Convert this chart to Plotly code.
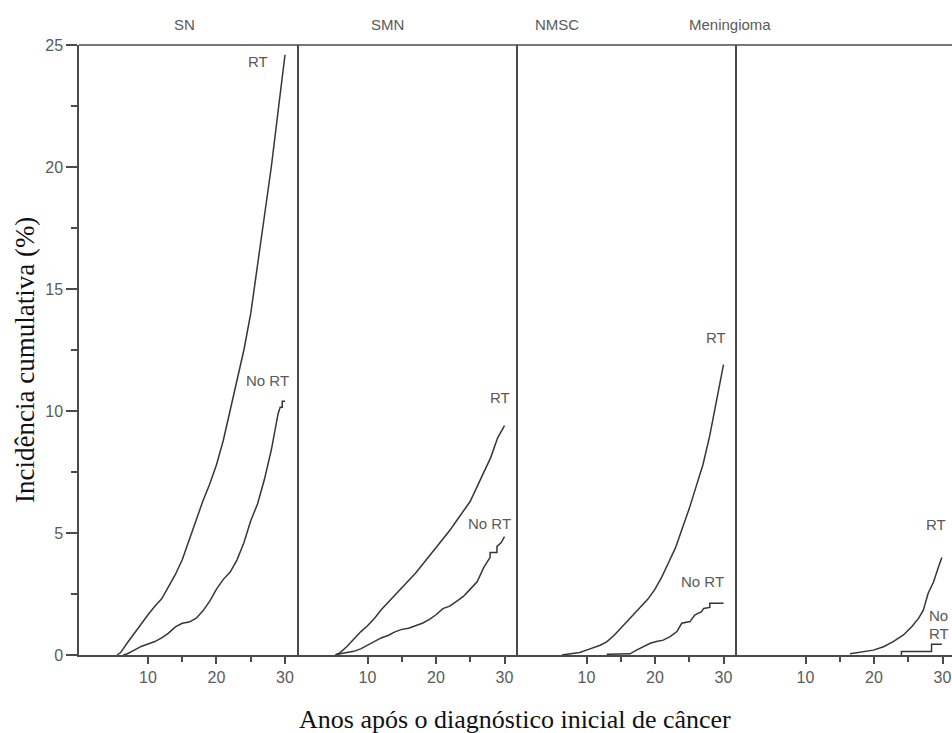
import plotly.graph_objects as go

# ---------------- data ----------------
panels = ["SN", "SMN", "NMSC", "Meningioma"]
x_ticks = [10, 20, 30]
x_minor = [15, 25]
y_ticks = [0, 5, 10, 15, 20, 25]
y_minor = [2.5, 7.5, 12.5, 17.5, 22.5]

sn_rt_x = [5.5, 6, 7, 8, 9, 10, 11, 12, 13, 14, 15, 16, 17, 18, 19, 20, 21, 22, 23, 24, 25, 26, 27, 28, 29, 30]
sn_rt_y = [0, 0.1, 0.5, 0.9, 1.3, 1.65, 2.0, 2.3, 2.8, 3.3, 3.9, 4.7, 5.5, 6.3, 7.0, 7.8, 8.8, 10.0, 11.2, 12.5, 14.0, 16.0, 18.0, 20.0, 22.3, 24.6]
sn_nort_x = [6.4, 7, 8, 9, 10, 11, 12, 13, 14, 15, 16, 17, 18, 19, 20, 21, 22, 23, 24, 25, 26, 27, 28, 29, 29.3, 29.6, 29.6, 30]
sn_nort_y = [0, 0.05, 0.2, 0.35, 0.45, 0.55, 0.7, 0.9, 1.15, 1.3, 1.35, 1.5, 1.8, 2.2, 2.7, 3.1, 3.4, 3.9, 4.6, 5.5, 6.2, 7.2, 8.4, 9.9, 10.15, 10.15, 10.4, 10.4]

smn_rt_x = [5.3, 6, 7, 8, 9, 10, 11, 12, 13, 14, 15, 16, 17, 18, 19, 20, 21, 22, 23, 24, 25, 26, 27, 28, 29, 30]
smn_rt_y = [0, 0.1, 0.35, 0.65, 0.95, 1.2, 1.5, 1.85, 2.15, 2.45, 2.75, 3.05, 3.35, 3.7, 4.05, 4.4, 4.75, 5.1, 5.5, 5.9, 6.3, 6.9, 7.5, 8.1, 8.9, 9.4]
smn_nort_x = [5.5, 6, 7, 8, 9, 10, 11, 12, 13, 14, 15, 16, 17, 18, 19, 20, 21, 22, 23, 24, 25, 26, 27, 27.9, 27.9, 28.9, 28.9, 29.5, 30]
smn_nort_y = [0, 0.05, 0.1, 0.15, 0.25, 0.4, 0.55, 0.7, 0.8, 0.95, 1.05, 1.1, 1.2, 1.3, 1.45, 1.65, 1.9, 2.0, 2.2, 2.4, 2.7, 3.0, 3.6, 4.0, 4.2, 4.2, 4.45, 4.6, 4.85]

nmsc_rt_x = [6.4, 8, 9, 10, 11, 12, 13, 14, 15, 16, 17, 18, 19, 20, 21, 22, 23, 24, 25, 26, 27, 28, 29, 30]
nmsc_rt_y = [0, 0.05, 0.1, 0.2, 0.3, 0.4, 0.55, 0.8, 1.1, 1.4, 1.7, 2.0, 2.3, 2.7, 3.2, 3.8, 4.4, 5.2, 6.0, 6.9, 7.8, 9.0, 10.4, 11.9]
nmsc_nort_x = [12.95, 16.35, 17.3, 18.3, 19.3, 20.2, 21.2, 22.2, 23.2, 23.9, 25.1, 25.8, 26.8, 27.1, 28.0, 28.0, 30.0]
nmsc_nort_y = [0.03, 0.05, 0.2, 0.34, 0.48, 0.55, 0.61, 0.75, 0.96, 1.3, 1.37, 1.64, 1.78, 1.91, 1.95, 2.12, 2.12]

men_rt_x = [16.5, 18.4, 19.9, 21.4, 22.8, 24.3, 25.5, 26.5, 27.2, 27.9, 28.7, 29.4, 29.9]
men_rt_y = [0.05, 0.14, 0.2, 0.34, 0.55, 0.82, 1.16, 1.5, 1.84, 2.52, 3.0, 3.6, 4.0]
men_nort_x = [24.0, 24.0, 28.4, 28.4, 29.9]
men_nort_y = [0.0, 0.14, 0.14, 0.44, 0.44]

series = [
    (sn_rt_x, sn_rt_y, sn_nort_x, sn_nort_y),
    (smn_rt_x, smn_rt_y, smn_nort_x, smn_nort_y),
    (nmsc_rt_x, nmsc_rt_y, nmsc_nort_x, nmsc_nort_y),
    (men_rt_x, men_rt_y, men_nort_x, men_nort_y),
]

# curve labels: (panel index, text, x, y)
curve_labels = [
    (0, "RT", 26.06, 24.34), (0, "No RT", 27.45, 11.23),
    (1, "RT", 29.3, 10.57), (1, "No RT", 27.8, 5.39),
    (2, "RT", 28.9, 13.0), (2, "No RT", 27.0, 3.03),
    (3, "RT", 29.05, 5.33), (3, "No", 29.45, 1.6), (3, "RT", 29.5, 0.9),
]

# ---------------- layout geometry ----------------
W, H = 952, 733
PL, PT, PB = 79, 45, 655            # plot edges in page pixels
ML, MR, MT = PL, 0, PT
MB = H - PB
PW = W - ML - MR
PH = PB - PT
bounds_px = [79, 299, 518, 737, 952]
domains = [[(bounds_px[i] - PL) / PW, min(1.0, (bounds_px[i + 1] - PL) / PW)] for i in range(4)]
px_per_unit = 6.85
x_ranges = [[0, (bounds_px[i + 1] - bounds_px[i]) / px_per_unit] for i in range(4)]
x_ranges[0] = [-0.07, (299 - 79.5) / px_per_unit]

AX = "#4a4a4a"
TXT = "#5a5a5a"
LINE = "#363636"
SANS = "Liberation Sans, Arial, sans-serif"
SERIF = "Liberation Serif, Times New Roman, serif"

fig = go.Figure()
for i, (rx, ry, nx, ny) in enumerate(series):
    xa = "x" if i == 0 else f"x{i+1}"
    ya = "y" if i == 0 else f"y{i+1}"
    for xs, ys in ((rx, ry), (nx, ny)):
        fig.add_trace(go.Scatter(x=xs, y=ys, mode="lines", xaxis=xa, yaxis=ya,
                                 line=dict(color=LINE, width=1.5), showlegend=False,
                                 hoverinfo="skip"))

layout = dict(width=W, height=H, margin=dict(l=ML, r=MR, t=MT, b=MB, pad=0),
              paper_bgcolor="white", plot_bgcolor="white", showlegend=False)

for i in range(4):
    xk = "xaxis" if i == 0 else f"xaxis{i+1}"
    yk = "yaxis" if i == 0 else f"yaxis{i+1}"
    xa = "x" if i == 0 else f"x{i+1}"
    ya = "y" if i == 0 else f"y{i+1}"
    layout[xk] = dict(domain=domains[i], range=x_ranges[i], anchor=ya,
                      showline=True, linecolor=AX, linewidth=2,
                      showgrid=False, zeroline=False,
                      tickmode="array", tickvals=x_ticks, ticks="outside",
                      ticklen=7, tickwidth=1.5, tickcolor=AX,
                      tickfont=dict(family=SANS, size=16, color=TXT),
                      minor=dict(tickmode="array", tickvals=x_minor, ticks="outside",
                                 ticklen=5, tickwidth=1.5, tickcolor=AX))
    ydict = dict(domain=[0, 1], range=[0, 25], anchor=xa,
                 showline=True, linecolor=AX, linewidth=1.5,
                 showgrid=False, zeroline=False)
    if i == 0:
        ydict.update(tickmode="array", tickvals=y_ticks, ticks="outside",
                     ticklen=11, tickwidth=1.5, tickcolor=AX,
                     tickfont=dict(family=SANS, size=16, color=TXT),
                     minor=dict(tickmode="array", tickvals=y_minor, ticks="outside",
                                ticklen=6, tickwidth=1.5, tickcolor=AX))
    else:
        ydict.update(showticklabels=False, ticks="")
    layout[yk] = ydict

def px_x(p):
    return (p - PL) / PW

def px_y(p):
    return (PB - p) / PH

annotations = []
title_px = [184, 387, 557, 730]
for name, xp in zip(panels, title_px):
    annotations.append(dict(text=name, xref="paper", yref="paper",
                            x=px_x(xp), y=px_y(25),
                            xanchor="center", yanchor="middle", showarrow=False,
                            font=dict(family=SANS, size=15, color=TXT)))
for (pi, txt, lx, ly) in curve_labels:
    xa = "x" if pi == 0 else f"x{pi+1}"
    ya = "y" if pi == 0 else f"y{pi+1}"
    annotations.append(dict(text=txt, xref=xa, yref=ya, x=lx, y=ly,
                            xanchor="center", yanchor="middle", showarrow=False,
                            font=dict(family=SANS, size=15, color=TXT)))
annotations.append(dict(text="Incidência cumulativa (%)", xref="paper", yref="paper",
                        x=px_x(25), y=px_y(360),
                        textangle=-90, xanchor="center", yanchor="middle", showarrow=False,
                        font=dict(family=SERIF, size=27, color="#111111")))
annotations.append(dict(text="Anos após o diagnóstico inicial de câncer", xref="paper", yref="paper",
                        x=px_x(515), y=px_y(719),
                        xanchor="center", yanchor="middle", showarrow=False,
                        font=dict(family=SERIF, size=26, color="#111111")))
layout["annotations"] = annotations
layout["shapes"] = [dict(type="line", xref="paper", yref="paper", x0=0, x1=1, y0=1, y1=1,
                         line=dict(color=AX, width=1.5))]

fig.update_layout(**layout)
fig.write_html("out.html", config={"displayModeBar": False},
               post_script="document.body.style.margin='0';document.body.style.overflow='hidden';")
